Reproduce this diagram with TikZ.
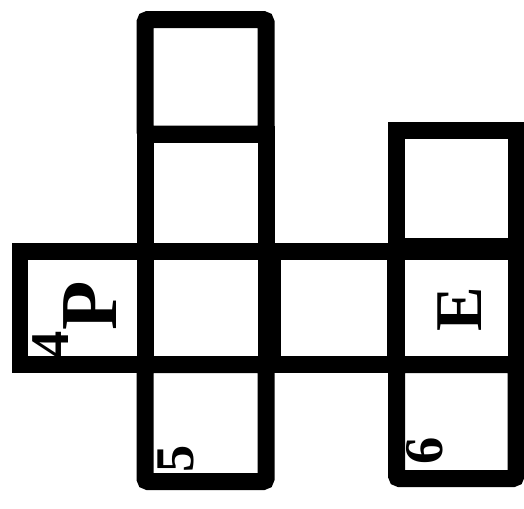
\documentclass[tikz,border=0pt]{standalone}
\usepackage{fontspec}
\setmainfont{Liberation Serif}
\tikzset{
  face/.style={draw=black, line width=0.34cm},
  roundface/.style={face, rounded corners=0.06cm},
  facemark/.style={font=\bfseries\fontsize{46}{46}\selectfont, rotate=90, inner sep=0pt},
  facenum/.style={font=\bfseries\fontsize{31}{31}\selectfont, rotate=90, inner sep=0pt},
}
\begin{document}
\begin{tikzpicture}[x=0.02cm, y=-0.02cm]
  \useasboundingbox (0,0) rectangle (524,508);

  % column with the two upper faces
  \draw[roundface] (145,19.5) rectangle (266,134);
  \draw[face] (145,134) rectangle (266,251);

  % middle row
  \draw[face] (20,251.5) rectangle (145,364.5);
  \draw[face] (145,251.5) rectangle (266,364.5);
  \draw[face] (272,251.5) rectangle (395,364.5);
  \draw[face] (396.5,251.5) rectangle (516,364.5);

  % right column
  \draw[face] (396.5,130.5) rectangle (516,246);
  \draw[roundface] (396.5,364.5) rectangle (516,478.5);

  % lower face under the second column
  \draw[roundface] (145,364.5) rectangle (266,481.5);

  % marks
  \node[facemark] (markP) at (90,305.5) {P};
  \node[facemark, font=\bfseries\fontsize{38}{38}\selectfont] (markE) at (460,309) {E};
  \node[facenum] (num4) at (51,344.5) {4};
  \node[facenum] (num5) at (176,458.5) {5};
  \node[facenum] (num6) at (425,451) {6};
\end{tikzpicture}
\end{document}
